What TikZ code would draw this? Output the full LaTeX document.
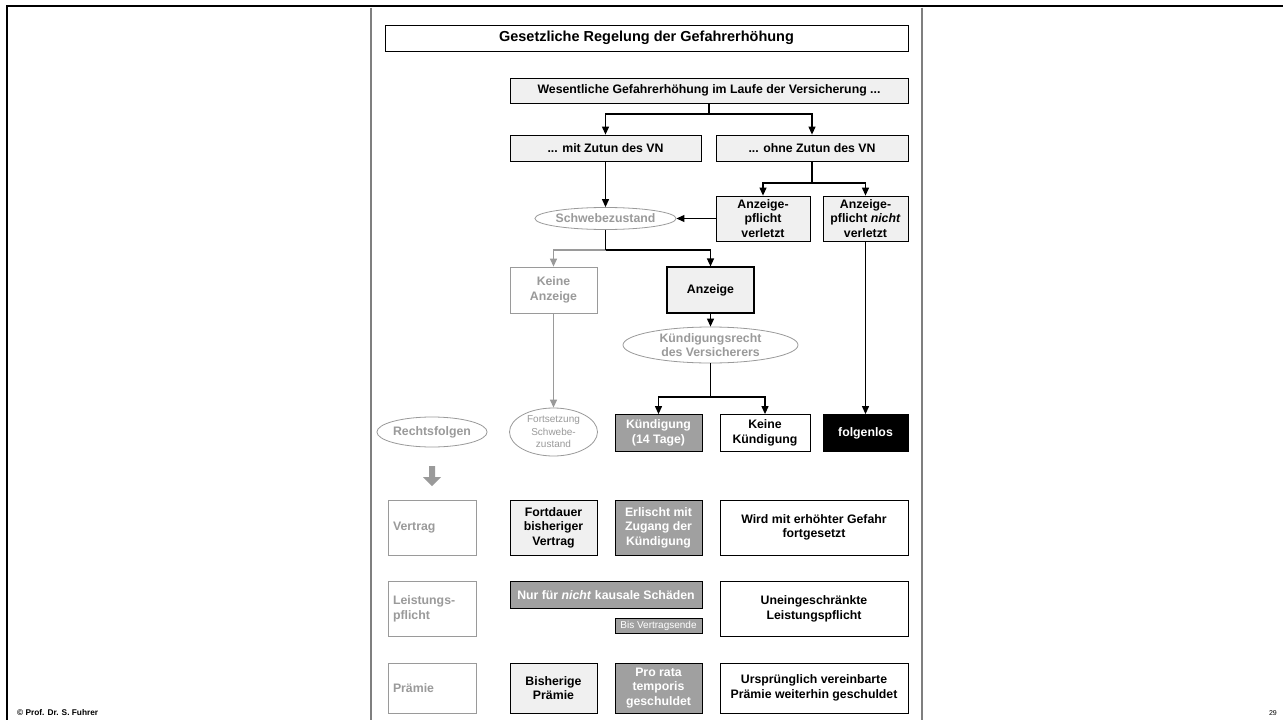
\documentclass[tikz,border=0pt]{standalone}
\usepackage{fontspec}
\setmainfont{Liberation Sans}
\usetikzlibrary{arrows.meta,shapes.geometric}
\definecolor{lg}{HTML}{F0F0F0}
\definecolor{mg}{HTML}{A0A0A0}
\definecolor{tg}{HTML}{9A9A9A}
\definecolor{pl}{HTML}{7F7F7F}
\newcommand{\fmain}{\fontsize{12.3}{14.5}\selectfont\bfseries}
\newcommand{\fsmall}{\fontsize{10}{12.5}\selectfont}
\begin{document}
\begin{tikzpicture}[x=1pt,y=-1pt,
  bx/.style={draw=black, line width=0.8pt, align=center, inner sep=0pt, font=\fmain},
  lgbox/.style={bx, fill=lg},
  mgbox/.style={bx, fill=mg, text=white},
  wbox/.style={bx, fill=white},
  gbox/.style={bx, draw=tg, text=tg},
  lbl/.style={gbox, align=left, inner xsep=5pt, text width=78pt, minimum width=88pt},
  ell/.style={ellipse, draw=tg, line width=0.8pt, text=tg, font=\fmain, inner sep=0pt, align=center},
  ln/.style={line width=1.2pt},
  arr/.style={ln, -{Triangle[length=8pt,width=7pt]}},
  garr/.style={arr, draw=tg},
  gln/.style={ln, draw=tg}]
\useasboundingbox (0,0) rectangle (1283,720);
\fill[white] (0,0) rectangle (1283,720);
% frame
\draw[line width=2.5pt] (7,720) -- (7,6) -- (1283,6);
\draw[pl, line width=1.5pt] (371,7.5) -- (371,720);
\draw[pl, line width=1.5pt] (922,7.5) -- (922,720);
% title
\node[wbox, minimum width=523pt, minimum height=26pt, font=\fontsize{14.5}{17}\selectfont\bfseries] (title) at (646.5,38) {Gesetzliche Regelung der Gefahrerhöhung};
% flow
\node[lgbox, minimum width=398pt, minimum height=25pt] (wes) at (709,90.5) {Wesentliche Gefahrerhöhung im Laufe der Versicherung ...};
\node[lgbox, minimum width=191pt, minimum height=26pt] (mit) at (605.5,148) {... mit Zutun des VN};
\node[lgbox, minimum width=192pt, minimum height=26pt] (ohne) at (812,148) {... ohne Zutun des VN};
\node[ell, minimum width=140pt, minimum height=22pt] (sw) at (605.5,218.5) {Schwebezustand};
\node[lgbox, minimum width=94pt, minimum height=45pt] (apv) at (763,218.5) {Anzeige-\\pflicht\\verletzt};
\node[lgbox, minimum width=85pt, minimum height=45pt] (apnv) at (865.5,218.5) {Anzeige-\\pflicht \textit{nicht}\\verletzt};
\node[gbox, minimum width=87pt, minimum height=46pt] (ka) at (553.5,290) {Keine\\Anzeige};
\node[lgbox, line width=1.1pt, minimum width=87pt, minimum height=46pt] (anz) at (710.5,290) {Anzeige};
\node[ell, minimum width=175pt, minimum height=36pt] (kr) at (710.5,345) {Kündigungsrecht\\des Versicherers};
\node[mgbox, minimum width=87pt, minimum height=37pt] (kue) at (658.5,433) {Kündigung\\(14 Tage)};
\node[wbox, minimum width=90pt, minimum height=37pt] (kk) at (765,433) {Keine\\Kündigung};
\node[bx, fill=black, text=white, minimum width=85pt, minimum height=37pt] (fl) at (865.5,433) {folgenlos};
\node[ell, minimum width=88pt, minimum height=30pt] (rf) at (432,432) {Rechtsfolgen};
\node[ell, minimum width=88pt, minimum height=48pt, font=\fsmall] (fs) at (553.5,432) {Fortsetzung\\Schwebe-\\zustand};
% connectors
\draw[ln] (wes.south) -- (709,114) coordinate (j1);
\draw[arr] (j1) -| (mit.north);
\draw[arr] (j1) -| (ohne.north);
\draw[arr] (mit.south) -- (sw.north);
\draw[ln] (ohne.south) -- (812,183) coordinate (j2);
\draw[arr] (j2) -| (apv.north);
\draw[arr] (j2) -| (apnv.north);
\draw[arr] (apv.west) -- (sw.east);
\draw[ln] (sw.south) -- (605.5,250) coordinate (j3);
\draw[garr] (j3) -| (ka.north);
\draw[arr] (j3) -| (anz.north);
\draw[ln] (sw.south) -- (j3);
\draw[arr] (anz.south) -- (kr.north);
\draw[ln] (kr.south) -- (710.5,397) coordinate (j4);
\draw[arr] (j4) -| (kue.north);
\draw[arr] (j4) -| (kk.north);
\draw[arr] (apnv.south) -- (fl.north);
\draw[garr] (ka.south) -- (fs.north);
% block arrow
\fill[tg] (429,466) -- (435,466) -- (435,477) -- (441,477) -- (432,486) -- (423,477) -- (429,477) -- cycle;
% rows
\node[lbl, minimum height=55pt] (lv) at (432,527.5) {Vertrag};
\node[lgbox, minimum width=87pt, minimum height=55pt] (fd) at (553.5,527.5) {Fortdauer\\bisheriger\\Vertrag};
\node[mgbox, minimum width=87pt, minimum height=55pt] (er) at (658.5,527.5) {Erlischt mit\\Zugang der\\Kündigung};
\node[wbox, minimum width=188pt, minimum height=55pt] (wi) at (814,527.5) {Wird mit erhöhter Gefahr\\fortgesetzt};
\node[lbl, minimum height=55pt] (ll) at (432,609) {Leistungs-\\pflicht};
\node[mgbox, minimum width=192pt, minimum height=27pt] (nur) at (606,595) {Nur für \textit{nicht} kausale Schäden};
\node[mgbox, minimum width=87pt, minimum height=15pt, font=\fsmall] (bis) at (658.5,626) {Bis Vertragsende};
\node[wbox, minimum width=188pt, minimum height=55pt] (un) at (814,609) {Uneingeschränkte\\Leistungspflicht};
\node[lbl, minimum height=50pt] (lp) at (432,688) {Prämie};
\node[lgbox, minimum width=87pt, minimum height=50pt] (bp) at (553.5,688) {Bisherige\\Prämie};
\node[mgbox, minimum width=87pt, minimum height=50pt] (pr) at (658.5,688) {Pro rata\\temporis\\geschuldet};
\node[wbox, minimum width=188pt, minimum height=50pt] (ur) at (814,688) {Ursprünglich vereinbarte\\Prämie weiterhin geschuldet};
% footer
\node[anchor=base west, inner sep=0pt, font=\fontsize{8.3}{10}\selectfont\bfseries] (cp) at (17,715) {© Prof. Dr. S. Fuhrer};
\node[anchor=base east, inner sep=0pt, font=\fontsize{7}{9}\selectfont] (pg) at (1277,715) {29};
\end{tikzpicture}
\end{document}
